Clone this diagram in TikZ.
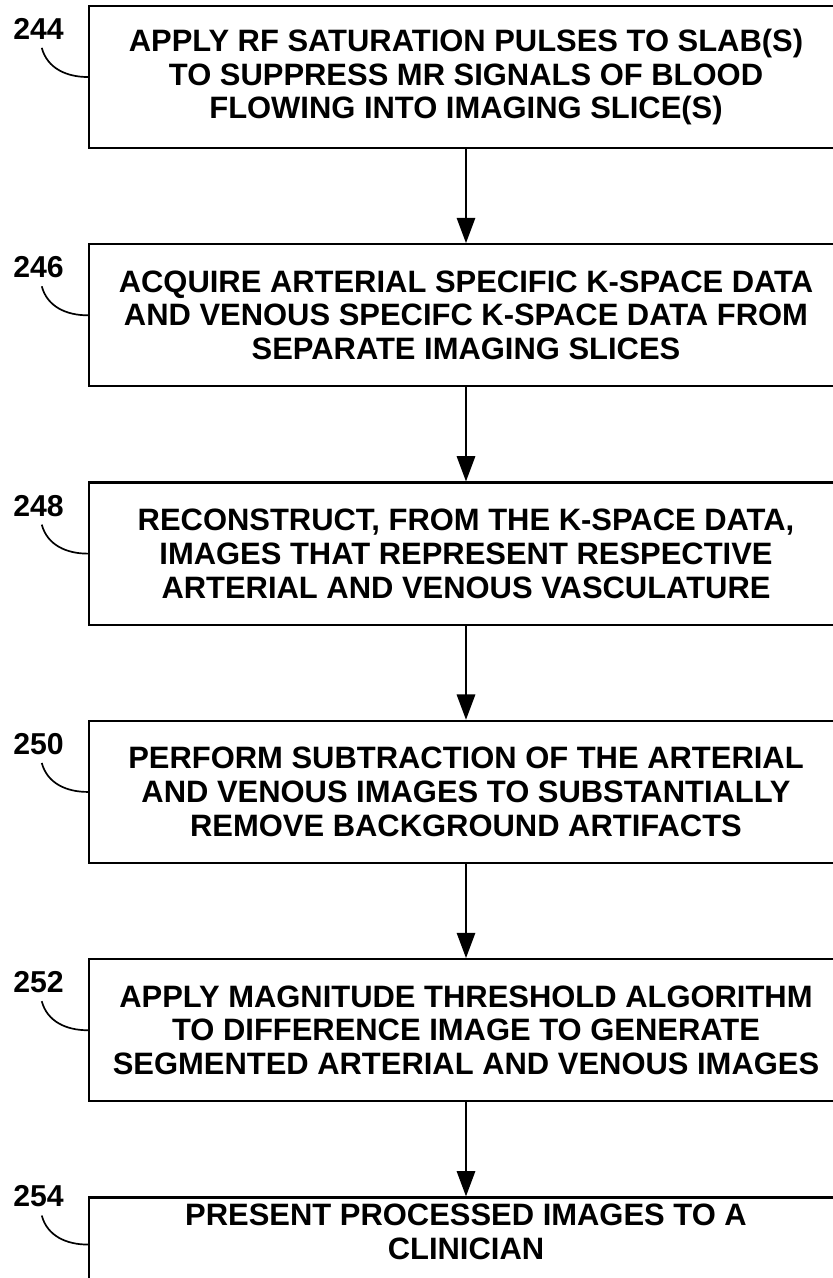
\documentclass[tikz,border=0pt]{standalone}
\usepackage{fontspec}
\setmainfont{Liberation Sans}
\usetikzlibrary{positioning,arrows.meta}

\tikzset{
  stepbox/.style={draw, line width=1.6pt, minimum width=18.85cm,
    minimum height=3.55cm, align=center, inner sep=0pt,
    font=\fontsize{22}{24.1}\selectfont\bfseries},
  reflabel/.style={inner sep=0.2cm, font=\fontsize{21.5}{24}\selectfont\bfseries},
  flow/.style={line width=1.6pt, -{Triangle[length=18pt,width=13pt]}},
  lead/.style={line width=1.2pt},
}

\begin{document}
\begin{tikzpicture}[x=0.025cm, y=0.025cm, node distance=2.35cm]

  \clip (0,0) rectangle (833,-1278);

  % Define steps

  % 244
  \node[stepbox] (s244) at (466,-77)
    {APPLY RF SATURATION PULSES TO SLAB(S)\\TO SUPPRESS MR SIGNALS OF BLOOD\\FLOWING INTO IMAGING SLICE(S)}; %

  % 246
  \node[stepbox, below=of s244] (s246)
    {ACQUIRE ARTERIAL SPECIFIC K-SPACE DATA\\AND VENOUS SPECIFC K-SPACE DATA FROM\\SEPARATE IMAGING SLICES}; %

  % 248
  \node[stepbox, below=of s246] (s248)
    {RECONSTRUCT, FROM THE K-SPACE DATA,\\IMAGES THAT REPRESENT RESPECTIVE\\ARTERIAL AND VENOUS VASCULATURE}; %

  % 250
  \node[stepbox, below=of s248] (s250)
    {PERFORM SUBTRACTION OF THE ARTERIAL\\AND VENOUS IMAGES TO SUBSTANTIALLY\\REMOVE BACKGROUND ARTIFACTS}; %

  % 252
  \node[stepbox, below=of s250] (s252)
    {APPLY MAGNITUDE THRESHOLD ALGORITHM\\TO DIFFERENCE IMAGE TO GENERATE\\SEGMENTED ARTERIAL AND VENOUS IMAGES}; %

  % 254 (runs off the page)
  \node[stepbox, below=of s252, minimum height=2.35cm, text depth=0.65cm] (s254)
    {PRESENT PROCESSED IMAGES TO A\\CLINICIAN}; %

  % Flow
  \draw[flow] (s244) -- (s246);
  \draw[flow] (s246) -- (s248);
  \draw[flow] (s248) -- (s250);
  \draw[flow] (s250) -- (s252);
  \draw[flow] (s252) -- (s254);

  % Reference numerals
  \foreach \n in {244,246,248,250,252,254} {
    \node[reflabel] (l\n) at ([xshift=-1.23cm, yshift=1.2cm]s\n.west) {\n}; %
    \draw[lead] ([xshift=0.08cm]l\n.south) to[out=-75, in=180] (s\n.west);
  }

\end{tikzpicture}
\end{document}
